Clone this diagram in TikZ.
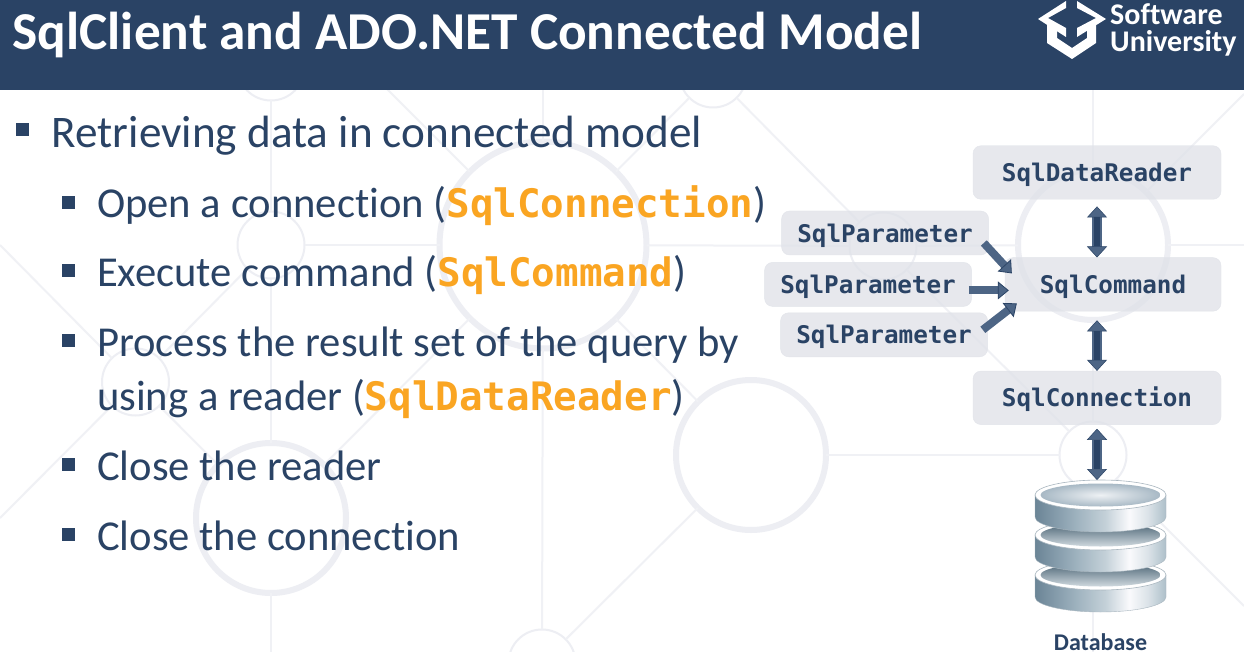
\documentclass[tikz,border=0pt]{standalone}
\usepackage{fontspec}
\setmainfont{Carlito}[Ligatures=NoCommon]
\newfontfamily\codefont{DejaVu Sans Mono}
\usetikzlibrary{arrows.meta,positioning,calc}
\definecolor{navy}{HTML}{2A4365}
\definecolor{steel}{HTML}{4D6585}
\definecolor{amber}{HTML}{FAA522}
\definecolor{faint}{HTML}{EDEEF3}
\definecolor{boxfill}{HTML}{DFE1E8}
\definecolor{boxedge}{HTML}{E2E4EA}
\definecolor{dbedge}{HTML}{A9B6BF}
\definecolor{wellshadow}{HTML}{4E6777}
\definecolor{welllight}{HTML}{D0D9DF}
\definecolor{wellmist}{HTML}{A8B9C5}
\definecolor{wellglow}{HTML}{EEF1F4}
\pgfdeclarehorizontalshading{dbside}{100bp}{rgb(0bp)=(0.42,0.52,0.59); rgb(25bp)=(0.42,0.52,0.59); rgb(40bp)=(0.61,0.69,0.74); rgb(52bp)=(0.77,0.82,0.85); rgb(61bp)=(0.98,0.98,0.99); rgb(68bp)=(0.86,0.89,0.91); rgb(75bp)=(0.68,0.75,0.79); rgb(100bp)=(0.68,0.75,0.79)}
\newcommand{\dbdisk}[2]{
\shade[shading=dbside, draw=dbedge] (1035,#1) -- (1035,#1+22) arc[start angle=180, end angle=360, x radius=65.5pt, y radius=15pt] -- (1166,#1) -- cycle;
\filldraw[fill=white, draw=dbedge, line width=0.6pt] (1100.5,#1) ellipse[x radius=65.5pt, y radius=15pt];
\shade[#2] (1100.5,#1) ellipse[x radius=60pt, y radius=11.5pt];
}
\newcommand{\code}[1]{{\codefont\bfseries\fontsize{39.2}{48}\selectfont\textcolor{amber}{#1}}}

\begin{document}
\begin{tikzpicture}[
x=1pt, y=-1pt,
ringbig/.style={circle, draw=faint, line width=6pt, minimum size=150pt, outer sep=0pt},
ringsmall/.style={circle, draw=faint, line width=2pt, minimum size=67pt, outer sep=0pt},
bgline/.style={draw=faint!85!white, line width=2pt},
title/.style={anchor=base west, inner sep=0pt, text=white, font=\fontsize{53.3}{64}\selectfont\bfseries},
logotext/.style={anchor=base west, inner sep=0pt, align=left, text=white, font=\fontsize{30}{27}\selectfont\bfseries},
mainitem/.style={anchor=base west, inner sep=0pt, text=navy, font=\fontsize{45.2}{54}\selectfont},
subitem/.style={anchor=base west, inner sep=0pt, text=navy, font=\fontsize{42.6}{54}\selectfont},
mainsq/.style={fill=navy, inner sep=0pt, minimum size=13pt},
subsq/.style={fill=navy, inner sep=0pt, minimum size=13pt},
codebox/.style={draw=boxedge, fill=boxfill, fill opacity=.75, text opacity=1, draw opacity=1, rounded corners=8pt, inner sep=0pt, minimum height=53.5pt, text=navy, text height=21.5pt, text depth=4pt, font=\fontsize{24.3}{28}\selectfont\codefont\bfseries},
parambox/.style={codebox, minimum width=207pt, minimum height=44pt},
welllow/.style={top color=wellshadow, bottom color=welllight},
welltop/.style={inner color=wellglow, outer color=wellmist},
dbarrow/.style={line width=9.5pt, draw=steel, {Triangle[length=11pt, width=20pt, line width=0.5pt, fill=steel, color=navy]}-{Triangle[length=11pt, width=20pt, line width=0.5pt, fill=steel, color=navy]}, postaction={draw=navy, line width=6.5pt, -, shorten <=11pt, shorten >=11pt}},
paramarrow/.style={line width=8pt, draw=steel, -{Triangle[length=11pt, width=18pt, line width=0.8pt, fill=steel, color=navy]}}
]
\useasboundingbox (0,0) rectangle (1244,652);
\clip (0,0) rectangle (1244,652);
\fill[white] (0,0) rectangle (1244,652);

\node[ringsmall] (ringtl) at (271,67) {};
\node[ringsmall] (ringtr) at (713,74) {};
\node[ringsmall] (ringleft) at (271,245) {};
\node[ringbig, minimum size=207pt] (ringmid) at (543,245) {};
\node[ringsmall] (ringparam) at (883,246) {};
\node[ringbig] (ringcmd) at (1093,245) {};
\node[ringsmall] (ringlow) at (135.5,382) {};
\node[ringbig] (ringcentre) at (751,455) {};
\node[ringsmall] (ringdb) at (1093,455) {};
\node[ringbig] (ringclose) at (271,518) {};
\node[ringsmall] (ringfoot) at (542,663) {};
\coordinate (edgew) at (0,245);
\coordinate (edgesw) at (0,518);
\coordinate (edgeup) at (298,0);
\coordinate (edgetop) at (543,90);
\coordinate (edgecmd) at (1093,90);
\coordinate (edgene) at (1244,94);
\coordinate (edgee) at (1244,245);
\coordinate (edgese) at (1244,606);
\coordinate (edgefoot) at (271,652);
\coordinate (edgedb) at (1093,652);

\draw[bgline] (ringtl) -- (ringleft);
\draw[bgline] (ringleft) -- (ringclose);
\draw[bgline] (ringclose) -- (edgefoot);
\draw[bgline] (ringleft) -- (ringmid);
\draw[bgline] (ringmid) -- (ringparam);
\draw[bgline] (ringparam) -- (ringcmd);
\draw[bgline] (ringcmd) -- (edgee);
\draw[bgline] (edgetop) -- (ringmid);
\draw[bgline] (ringmid) -- (ringfoot);
\draw[bgline] (ringmid) -- (ringcentre);
\draw[bgline] (ringmid) -- (edgeup);
\draw[bgline] (ringmid) -- (ringtr);
\draw[bgline] (ringmid) -- (ringclose);
\draw[bgline] (ringtr) -- (ringparam);
\draw[bgline] (ringparam) -- (ringdb);
\draw[bgline] (ringdb) -- (edgese);
\draw[bgline] (ringcentre) -- (ringdb);
\draw[bgline] (ringcentre) -- (ringfoot);
\draw[bgline] (edgew) -- (ringlow);
\draw[bgline] (ringlow) -- (ringclose);
\draw[bgline] (edgesw) -- (ringlow);
\draw[bgline] (ringlow) -- (ringleft);
\draw[bgline] (edgecmd) -- (ringcmd);
\draw[bgline] (ringcmd) -- (ringdb);
\draw[bgline] (ringdb) -- (edgedb);
\draw[bgline] (ringcmd) -- (edgene);

\fill[navy] (0,0) rectangle (1244,90);
\node[title] (heading) at (12.5,50) {SqlClient and ADO.NET Connected Model};
\fill[white] (1066,1) -- (1066,8) -- (1048,18) -- (1066,28) -- (1066,37) -- (1038,19) -- cycle;
\fill[white] (1077,1) -- (1077,8) -- (1096,18) -- (1077,28) -- (1077,37) -- (1106,19) -- cycle;
\fill[white] (1047,24) -- (1047,43) -- (1072,59) -- (1096,43) -- (1096,24) -- (1087,28) -- (1087,38) -- (1072,48) -- (1057,38) -- (1057,28) -- cycle;
\node[logotext] (logo) at (1110,51.5) {Software\\University};

\node[mainsq] (sqretrieve) at (22.5,129.5) {};
\node[mainitem] (retrieve) at (51.5,148) {Retrieving data in connected model};
\node[subsq] (sqopen) at (68.5,202.5) {};
\node[subitem] (open) at (97,218) {Open a connection (\code{SqlConnection})};
\node[subsq] (sqexec) at (68.5,270.5) {};
\node[subitem] (exec) at (97,287) {Execute command (\code{SqlCommand})};
\node[subsq] (sqproc) at (68.5,340.5) {};
\node[subitem] (proc) at (97,356) {Process the result set of the query by};
\node[subitem] (procnext) at (97,410) {using a reader (\code{SqlDataReader})};
\node[subsq] (sqreader) at (68.5,464.5) {};
\node[subitem] (closereader) at (97,480.5) {Close the reader};
\node[subsq] (sqconn) at (68.5,534.5) {};
\node[subitem] (closeconn) at (97,550.5) {Close the connection};

\node[codebox, minimum width=248pt] (reader) at (1097,172.5) {SqlDataReader};
\node[codebox, minimum width=216pt, below=58pt of reader.south east, anchor=north east] (command) {SqlCommand};
\node[codebox, minimum width=248pt, below=59.5pt of command.south east, anchor=north east] (connection) {SqlConnection};
\node[parambox, left=33pt of command] (parammid) {SqlParameter};
\node[parambox, text height=23pt, above=7pt of parammid.north east, anchor=south east, xshift=17pt] (paramtop) {SqlParameter};
\node[parambox, below=6pt of parammid.south east, anchor=north east, xshift=16pt] (parambot) {SqlParameter};

\dbdisk{575}{welllow}
\dbdisk{535}{welllow}
\dbdisk{495}{welltop}
\coordinate (dbtop) at (1097,480);
\node[anchor=base, inner sep=0pt, text=navy, font=\fontsize{24}{28}\selectfont\bfseries] (dblabel) at (1100.5,650) {Database};

\draw[dbarrow] ($(reader.south)+(0,7)$) -- (reader.south |- command.north);
\draw[dbarrow] ($(reader.south |- command.south)+(0,9)$) -- (connection.north);
\draw[dbarrow] ($(connection.south)+(0,4)$) -- (dbtop);
\draw[paramarrow] ($(paramtop.east)+(-5,10)$) -- ($(command.west)+(7,-11)$);
\draw[paramarrow] ($(parammid.east)+(-3,6)$) -- ($(command.west)+(4,6)$);
\draw[paramarrow] ($(parambot.east)+(-5,-5)$) -- ($(command.west)+(12,19)$);
\end{tikzpicture}
\end{document}
